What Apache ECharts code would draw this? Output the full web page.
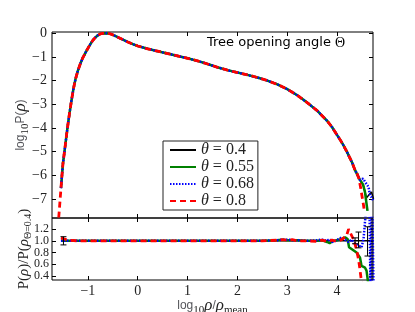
<!DOCTYPE html>
<html><head><meta charset="utf-8">
<script src="https://cdn.jsdelivr.net/npm/echarts@6/dist/echarts.min.js"></script>
<style>html,body{margin:0;padding:0;background:#fff}#c{width:415px;height:312px}</style>
</head><body><div id="c"></div>
<script>
// ---- data ----
const thetas = ['0.4', '0.55', '0.68', '0.8'];
const xTicks = [-1, 0, 1, 2, 3, 4];
const yTicksTop = [-7, -6, -5, -4, -3, -2, -1, 0];
const yTicksRatio = [0.4, 0.6, 0.8, 1.0, 1.2];

// shared part of log10 P(rho) curve
const logRho = [-1.54,-1.52,-1.50,-1.47,-1.44,-1.41,-1.37,-1.33,-1.29,-1.25,-1.20,-1.15,-1.10,-1.05,-1.00,-0.95,-0.90,-0.85,-0.80,-0.75,-0.70,-0.65,-0.60,-0.55,-0.50,-0.40,-0.30,-0.20,-0.10,0.00,0.20,0.40,0.60,0.80,1.00,1.20,1.40,1.60,1.80,2.00,2.20,2.40,2.60,2.80,3.00,3.20,3.40,3.60,3.80,3.90,4.00,4.10,4.20,4.30,4.36];
const logP = [-6.54,-6.00,-5.50,-5.00,-4.50,-4.00,-3.40,-2.85,-2.35,-1.95,-1.58,-1.28,-1.03,-0.83,-0.64,-0.46,-0.30,-0.18,-0.09,-0.03,-0.01,0.00,-0.01,-0.03,-0.07,-0.17,-0.27,-0.37,-0.46,-0.54,-0.66,-0.76,-0.86,-0.96,-1.06,-1.17,-1.30,-1.44,-1.56,-1.66,-1.76,-1.87,-2.00,-2.16,-2.36,-2.62,-2.93,-3.27,-3.70,-3.97,-4.30,-4.63,-5.02,-5.46,-5.78];

// per-series tails of the curve
const tailX04 = [4.46,4.53,4.59,4.64,4.69,4.73];
const tailY04 = [-6.20,-6.45,-6.95,-6.82,-6.70,-7.00];
const tailX055 = [4.46,4.52,4.56,4.59,4.61];
const tailY055 = [-6.20,-6.38,-6.72,-7.20,-7.50];
const tailX068 = [4.46,4.52,4.56,4.63,4.66,4.70,4.73];
const tailY068 = [-6.20,-6.14,-6.27,-6.49,-6.84,-6.95,-7.10];
const tailX08 = [4.40,4.44,4.47,4.50,4.53,4.55];
const tailY08 = [-5.92,-6.15,-6.50,-6.88,-7.26,-7.56];
const headX08 = [-1.60];
const headY08 = [-8.20];

// ratio panel
const ratioX04 = [-1.54, 4.73];
const ratio04 = [1.0, 1.0];
const ratioX = [-1.54,-1.40,-1.20,-1.00,-0.50,0.00,0.50,1.00,1.50,2.00,2.50,2.80,2.90,3.00,3.10,3.20,3.40,3.60,3.70,3.80,3.85,3.90,3.96];
const ratio055 = [1.00,1.00,1.00,1.00,1.00,1.00,1.00,1.00,1.00,1.00,1.00,1.01,1.02,1.01,1.01,1.01,1.00,1.00,1.01,0.98,0.96,0.99,1.00];
const ratio068 = [1.00,1.00,1.00,1.00,1.00,1.00,1.00,1.00,1.00,1.00,1.00,1.01,1.02,1.02,1.01,1.01,1.00,1.01,1.02,1.00,1.03,0.98,1.00];
const ratio08  = [1.05,1.01,1.00,1.00,1.00,1.00,1.00,1.00,1.00,1.00,1.00,1.01,1.02,1.01,1.02,1.00,1.00,0.99,1.01,0.99,1.00,1.01,1.00];
const rTailX055 = [4.09,4.16,4.21,4.24,4.29,4.33,4.39,4.46,4.49,4.56,4.59,4.62,4.64];
const rTailY055 = [1.03,1.06,1.03,0.89,0.86,0.89,0.80,0.71,0.57,0.54,0.49,0.30,0.10];
const rTailX068 = [4.03,4.09,4.16,4.23,4.29,4.36,4.43,4.49,4.53,4.56,4.60,4.64,4.67,4.70,4.73];
const rTailY068 = [1.03,1.06,1.02,0.98,1.02,0.95,0.92,0.89,1.03,1.33,1.70,2.20,0.10,1.90,0.20];
const rTailX08 = [4.03,4.09,4.19,4.23,4.26,4.33,4.39,4.43,4.46,4.48,4.52];
const rTailY08 = [1.00,1.02,1.09,1.20,1.17,1.02,0.85,0.68,0.50,0.36,0.10];

// error bars on the reference ratio
const errX  = [-1.49, 4.36, 4.43, 4.61, 4.70];
const errLo = [0.93, 0.95, 0.88, 0.74, 0.10];
const errHi = [1.07, 1.05, 1.15, 1.24, 1.90];

// ---- build ----
const zip = (xs, ys) => xs.map((x, i) => [x, ys[i]]);
const curve = (hx, hy, tx, ty) => zip(hx, hy).concat(zip(logRho, logP), zip(tx, ty));

const SERIF = 'Liberation Serif';
const fmtMinus = v => (v < 0 ? '\u2212' + Math.abs(v) : String(v));
const X_MIN = -1.72, X_MAX = 4.72;
const R_MIN = 0.33, R_MAX = 1.39;

const styles = [
  { color: '#000000', width: 1.5, type: 'solid' },
  { color: '#008000', width: 2.5, type: 'solid' },
  { color: '#0000ff', width: 2.5, type: [1.5, 1.5] },
  { color: '#ff0000', width: 2.8, type: [6, 4] }
];

const subRich = {
  b: { fontFamily: SERIF, fontSize: 17, color: '#222' },
  i: { fontFamily: SERIF, fontSize: 17, fontStyle: 'italic', color: '#222' },
  s: { fontFamily: SERIF, fontSize: 11, color: '#222', padding: [9, 0, 0, 0] },
  bs: { fontFamily: SERIF, fontSize: 15, color: '#222' },
  is: { fontFamily: SERIF, fontSize: 15, fontStyle: 'italic', color: '#222' },
  ss: { fontFamily: SERIF, fontSize: 10, color: '#222', padding: [8, 0, 0, 0] }
};

const tick = { show: true, inside: true, length: 4, lineStyle: { color: '#000', width: 1 } };
function xAx(grid, pos, labels, name) {
  return {
    type: 'value', gridIndex: grid, position: pos, min: X_MIN, max: X_MAX,
    axisLine: { show: false, onZero: false }, splitLine: { show: false },
    axisTick: Object.assign({ customValues: xTicks }, tick),
    axisLabel: labels ? { customValues: xTicks, interval: 0, formatter: fmtMinus, fontFamily: SERIF, fontSize: 14, color: '#222', margin: 4, showMinLabel: true, showMaxLabel: true } : { show: false },
    name: name || '', nameLocation: 'middle', nameGap: 16, nameMoveOverlap: false,
    nameTextStyle: { rich: subRich }
  };
}
function yAx(grid, pos, min, max, ticks, labelVals, labelCfg, name, gap) {
  return {
    type: 'value', gridIndex: grid, position: pos, min: min, max: max,
    axisLine: { show: false, onZero: false }, splitLine: { show: false },
    axisTick: ticks ? Object.assign({ customValues: ticks }, tick) : { show: false },
    axisLabel: labelCfg ? Object.assign({ customValues: labelVals, interval: 0, fontFamily: SERIF, color: '#222', hideOverlap: false, showMinLabel: true, showMaxLabel: true }, labelCfg) : { show: false },
    name: name || '', nameLocation: 'middle', nameGap: gap || 20, nameRotate: 90, nameMoveOverlap: false,
    nameTextStyle: { rich: subRich }
  };
}

const series = [];
const curveData = [
  curve([], [], tailX04, tailY04),
  curve([], [], tailX055, tailY055),
  curve([], [], tailX068, tailY068),
  curve(headX08, headY08, tailX08, tailY08)
];
const ratioData = [
  zip(ratioX04, ratio04),
  zip(ratioX, ratio055).concat(zip(rTailX055, rTailY055)),
  zip(ratioX, ratio068).concat(zip(rTailX068, rTailY068)),
  zip(ratioX, ratio08).concat(zip(rTailX08, rTailY08))
];
thetas.forEach((t, k) => {
  const st = styles[k];
  series.push({
    name: t, type: 'line', xAxisIndex: 0, yAxisIndex: 0, data: curveData[k],
    symbol: 'none', showSymbol: false, animation: false, z: 2 + k,
    lineStyle: { color: st.color, width: st.width, type: st.type }, itemStyle: { color: st.color }
  });
  series.push({
    name: t, type: 'line', xAxisIndex: 2, yAxisIndex: 2, data: ratioData[k],
    symbol: 'none', showSymbol: false, animation: false, z: 2 + k,
    lineStyle: { color: st.color, width: st.width, type: st.type }, itemStyle: { color: st.color }
  });
});
series.push({
  type: 'custom', xAxisIndex: 2, yAxisIndex: 2, clip: true, animation: false, z: 8,
  data: errX.map((x, i) => [x, errLo[i], errHi[i]]),
  renderItem: (params, api) => {
    const a = api.coord([api.value(0), api.value(1)]);
    const b = api.coord([api.value(0), api.value(2)]);
    const w = 3;
    const st = { stroke: '#000', lineWidth: 1 };
    return { type: 'group', children: [
      { type: 'line', shape: { x1: a[0], y1: a[1], x2: b[0], y2: b[1] }, style: st },
      { type: 'line', shape: { x1: a[0] - w, y1: a[1], x2: a[0] + w, y2: a[1] }, style: st },
      { type: 'line', shape: { x1: b[0] - w, y1: b[1], x2: b[0] + w, y2: b[1] }, style: st }
    ] };
  }
});

const ratioLbl = { formatter: v => v.toFixed(1), fontSize: 12, lineHeight: 11, margin: 3 };
const chart = echarts.init(document.getElementById('c'), null, { renderer: 'canvas' });
chart.setOption({
  animation: false,
  backgroundColor: '#fff',
  title: {
    text: 'Tree opening angle {t|\u0398}', left: 207, top: 36, padding: 0,
    textStyle: { fontFamily: 'DejaVu Sans', fontSize: 13, fontWeight: 'normal', color: '#000',
      rich: { t: { fontFamily: SERIF, fontSize: 14, color: '#000' } } }
  },
  grid: [
    { left: 52, top: 32, width: 321, height: 186, show: true, borderColor: '#000', borderWidth: 1, backgroundColor: 'transparent', containLabel: false, outerBoundsMode: 'none' },
    { left: 52, top: 218, width: 321, height: 62, show: true, borderColor: '#000', borderWidth: 1, backgroundColor: 'transparent', containLabel: false, outerBoundsMode: 'none' }
  ],
  xAxis: [
    xAx(0, 'bottom', false),
    xAx(0, 'top', false),
    xAx(1, 'bottom', true, 'log{s|10}{i|\u03c1}/{i|\u03c1}{s|mean}'),
    xAx(1, 'top', false)
  ],
  yAxis: [
    yAx(0, 'left', -7.8, 0.05, yTicksTop, yTicksTop, { formatter: fmtMinus, fontSize: 14, margin: 5 }, 'log{s|10}P({i|\u03c1})', 21),
    yAx(0, 'right', -7.8, 0.05, yTicksTop, null, null),
    yAx(1, 'left', R_MIN, R_MAX, yTicksRatio, yTicksRatio.filter((v, i) => i % 2 === 0), ratioLbl, '{bs|P(}{is|\u03c1}{bs|)/P(}{is|\u03c1}{ss|\u0398=0.4}{bs|)}', 19),
    yAx(1, 'right', R_MIN, R_MAX, yTicksRatio, null, null),
    yAx(1, 'left', R_MIN, R_MAX, null, yTicksRatio.filter((v, i) => i % 2 === 1), ratioLbl)
  ],
  legend: {
    data: thetas, orient: 'vertical', left: 163, top: 141,
    backgroundColor: '#fff', borderColor: '#222', borderWidth: 1, borderRadius: 0,
    padding: [1, 4, 1, 6], itemGap: 1, itemWidth: 26, itemHeight: 12,
    itemStyle: { opacity: 0, color: 'rgba(0,0,0,0)', borderWidth: 0 },
    formatter: n => '{i|\u03b8} = ' + n,
    textStyle: { fontFamily: SERIF, fontSize: 16, color: '#222', rich: { i: { fontFamily: SERIF, fontSize: 16, fontStyle: 'italic', color: '#222' } } }
  },
  series: series
});
</script>
</body></html>
